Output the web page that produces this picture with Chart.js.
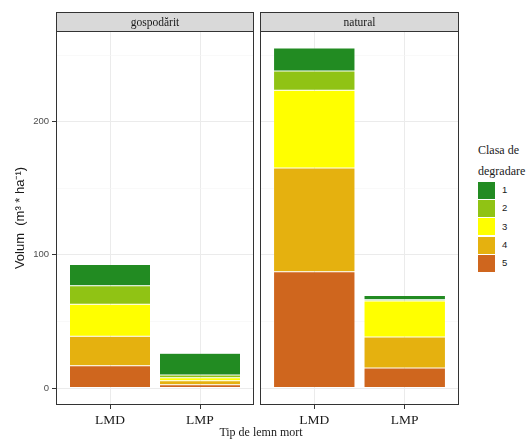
<!DOCTYPE html>
<html>
<head>
<meta charset="utf-8">
<script src="https://cdn.jsdelivr.net/npm/chart.js@4/dist/chart.umd.min.js"></script>
<style>
  html, body { margin: 0; padding: 0; background: #ffffff; }
  #wrap { position: relative; width: 526px; height: 439px; overflow: hidden; background: #ffffff; }
  #wrap canvas { position: absolute; top: 0; }
  #xtitle {
    position: absolute; left: 201px; width: 120px; top: 425px;
    text-align: center; font: 12px "Liberation Serif", serif; line-height: 14px; color: #1a1a1a;
  }
  #legend { position: absolute; left: 478px; top: 140px; }
  #legend .ttl { font: 12px "Liberation Serif", serif; line-height: 20.6px; color: #1a1a1a; white-space: nowrap; }
  #legend .row { position: relative; height: 18.3px; }
  #legend .sw { position: absolute; left: 0; top: 0.6px; width: 17px; height: 17px; }
  #legend .lb { position: absolute; left: 24px; top: 0; font: 9.5px "Liberation Sans", Arial, sans-serif; line-height: 18px; color: #1a1a1a; }
</style>
</head>
<body>
<div id="wrap">
  <canvas id="panelA" width="257" height="439" style="left:0px"></canvas>
  <canvas id="panelB" width="210" height="439" style="left:257px"></canvas>
  <div id="xtitle">Tip de lemn mort</div>
  <div id="legend"></div>
</div>
<script>
// Dead-wood volume by type (LMD / LMP) and decay class, per stand type
const panels = ['gospodărit', 'natural'];
const categories = ['LMD', 'LMP'];
const classes = ['1', '2', '3', '4', '5'];
const classColors = ['#228B22', '#90C314', '#FFFF00', '#E5B10F', '#CF661E'];

// m3/ha per decay class, in category order [LMD, LMP]
const gospodarit1 = [16.1, 16.3];
const gospodarit2 = [13.9, 2.0];
const gospodarit3 = [24.0, 2.2];
const gospodarit4 = [22.1, 3.0];
const gospodarit5 = [16.7, 2.5];

const natural1 = [17.3, 3.2];
const natural2 = [14.5, 1.0];
const natural3 = [58.3, 27.0];
const natural4 = [78.0, 23.3];
const natural5 = [87.2, 15.0];

const yMajorTicks = [0, 100, 200];
const yMinorTicks = [50, 150, 250];
const legendTitle = ['Clasa de', 'degradare'];
const yTitle = 'Volum  (m³ * ha⁻¹)';

const panelSeries = [
  [gospodarit1, gospodarit2, gospodarit3, gospodarit4, gospodarit5],
  [natural1, natural2, natural3, natural4, natural5]
];

// shared y range: stacked totals plus a 5% margin on both ends
const totals = panelSeries.flatMap(s => categories.map((c, i) => s.reduce((a, cls) => a + cls[i], 0)));
const yTop = Math.max(...totals);
const yPad = yTop * 0.05;

// facet strip above the panel and dark frame around it
const facetPlugin = {
  id: 'facet',
  beforeDraw(chart, args, opts) {
    const { ctx, chartArea: a } = chart;
    ctx.save();
    ctx.fillStyle = '#D9D9D9';
    ctx.fillRect(a.left, a.top - opts.stripHeight, a.right - a.left, opts.stripHeight);
    ctx.restore();
  },
  afterDraw(chart, args, opts) {
    const { ctx, chartArea: a } = chart;
    const l = Math.round(a.left) + 0.5, r = Math.round(a.right) - 0.5;
    const t = Math.round(a.top) + 0.5, b = Math.round(a.bottom) - 0.5;
    const st = Math.round(a.top - opts.stripHeight) + 0.5;
    ctx.save();
    ctx.strokeStyle = '#333333';
    ctx.lineWidth = 1;
    ctx.strokeRect(l, t, r - l, b - t);
    ctx.strokeRect(l, st, r - l, t - st);
    ctx.fillStyle = '#1a1a1a';
    ctx.font = '11.5px "Liberation Serif", serif';
    ctx.textAlign = 'center';
    ctx.textBaseline = 'middle';
    ctx.fillText(opts.label, (a.left + a.right) / 2, (st + t) / 2 + 1);
    ctx.restore();
  }
};

function makePanel(canvasId, panelIndex, showY) {
  const series = panelSeries[panelIndex];
  // bottom of the stack is class 5, top is class 1
  const order = [4, 3, 2, 1, 0];
  const datasets = order.map(ci => ({
    label: classes[ci],
    data: categories.map((cat, i) => ({ x: i + 1, y: series[ci][i] })),
    backgroundColor: classColors[ci],
    borderColor: 'rgba(255,255,255,0.3)',
    borderWidth: 0.5,
    borderSkipped: false,
    categoryPercentage: 1,
    barPercentage: 0.9
  }));

  return new Chart(document.getElementById(canvasId), {
    type: 'bar',
    data: { datasets },
    plugins: [facetPlugin],
    options: {
      responsive: false,
      animation: false,
      events: [],
      layout: { padding: showY ? { top: 31, left: 0, right: 3, bottom: 0 } : { top: 31, left: 3, right: 8, bottom: 0 } },
      plugins: {
        legend: { display: false },
        tooltip: { enabled: false },
        facet: { label: panels[panelIndex], stripHeight: 19 }
      },
      scales: {
        x: {
          type: 'linear',
          stacked: true,
          offset: false,
          min: 0.4,
          max: 2.6,
          afterBuildTicks: s => { s.ticks = categories.map((c, i) => ({ value: i + 1 })); },
          afterFit: s => { s.height = 34; },
          ticks: {
            callback: v => categories[v - 1] ?? '',
            font: { family: '"Liberation Serif", serif', size: 13.5 },
            color: '#1a1a1a',
            padding: 3,
            maxRotation: 0,
            autoSkip: false
          },
          grid: { offset: false, color: '#EBEBEB', lineWidth: 1, tickLength: 4, tickColor: '#333333', tickWidth: 1 },
          border: { display: false }
        },
        y: {
          type: 'linear',
          stacked: true,
          min: -yPad,
          max: yTop + yPad,
          afterBuildTicks: s => {
            s.ticks = [...yMajorTicks, ...yMinorTicks].sort((p, q) => p - q).map(v => ({ value: v }));
          },
          afterFit: s => { s.width = showY ? 56 : 0; },
          ticks: {
            display: showY,
            callback: v => yMajorTicks.includes(v) ? String(v) : '',
            font: { family: '"Liberation Sans", Arial, sans-serif', size: 9.5 },
            color: '#4D4D4D',
            padding: 3,
            autoSkip: false
          },
          grid: {
            color: c => yMajorTicks.includes(c.tick.value) ? '#EBEBEB' : '#F5F5F5',
            lineWidth: c => yMajorTicks.includes(c.tick.value) ? 1 : 0.6,
            drawTicks: showY,
            tickLength: 4,
            tickWidth: 1,
            tickColor: c => yMajorTicks.includes(c.tick.value) ? '#333333' : 'rgba(0,0,0,0)'
          },
          border: { display: false },
          title: {
            display: showY,
            text: yTitle,
            font: { family: '"Liberation Sans", Arial, sans-serif', size: 13 },
            color: '#1a1a1a',
            padding: { top: 13, bottom: 0 }
          }
        }
      }
    }
  });
}

makePanel('panelA', 0, true);
makePanel('panelB', 1, false);

// legend for the decay classes
const legend = document.getElementById('legend');
legendTitle.forEach(line => {
  const d = document.createElement('div');
  d.className = 'ttl';
  d.textContent = line;
  legend.appendChild(d);
});
classes.forEach((c, i) => {
  const row = document.createElement('div');
  row.className = 'row';
  const sw = document.createElement('div');
  sw.className = 'sw';
  sw.style.background = classColors[i];
  const lb = document.createElement('div');
  lb.className = 'lb';
  lb.textContent = c;
  row.appendChild(sw);
  row.appendChild(lb);
  legend.appendChild(row);
});
</script>
</body>
</html>
